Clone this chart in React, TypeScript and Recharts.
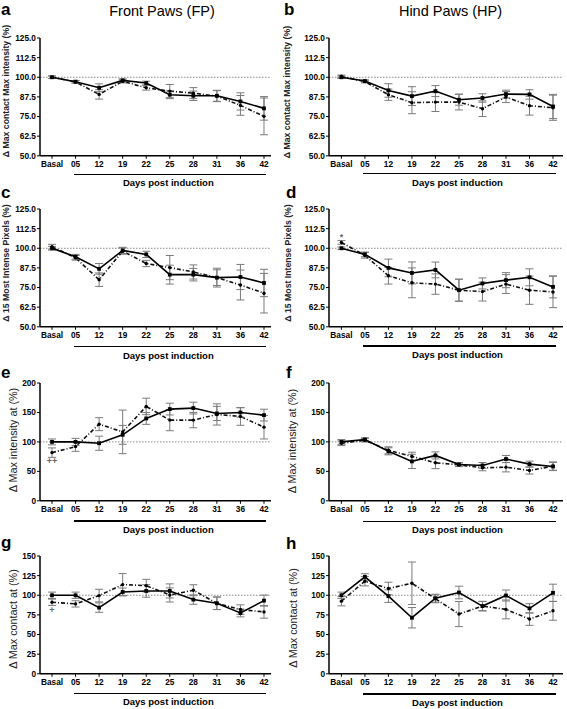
import React from 'react';
import { LineChart, Line, XAxis, YAxis, ErrorBar, ReferenceLine, ReferenceDot } from 'recharts';

// ---------- data ----------
const days = ['Basal', '05', '12', '19', '22', '25', '28', '31', '36', '42'];

const ticksPct = [50, 62.5, 75, 87.5, 100, 112.5, 125];
const ticksIntensity = [0, 50, 100, 150, 200];
const ticksContact = [0, 25, 50, 75, 100, 125, 150];

// a: FP, delta max contact max intensity
const aSolid = [100, 97.2, 93.3, 98.0, 96.3, 88.9, 88.2, 88.2, 84.6, 80.2];
const aDashed = [100, 97.0, 89.1, 97.4, 93.3, 91.2, 89.9, 88.0, 82.1, 75.1];
const aSolidErr = [0.8, 0.8, 2.5, 1.0, 1.2, 2.5, 3.0, 3.5, 5.5, 7.5];
const aDashedErr = [0.8, 0.8, 3.0, 1.0, 1.5, 4.2, 3.5, 3.5, 6.3, 11.7];

// b: HP, delta max contact max intensity
const bSolid = [100, 97.6, 91.6, 88.0, 91.2, 85.7, 86.8, 89.3, 89.1, 81.4];
const bDashed = [100.6, 97.2, 88.9, 83.8, 84.2, 84.2, 80.0, 87.4, 81.9, 80.6];
const bSolidErr = [0.8, 0.8, 4.3, 6.0, 3.5, 3.5, 2.7, 2.5, 3.0, 7.7];
const bDashedErr = [0.8, 0.8, 3.6, 7.0, 6.0, 5.0, 5.0, 3.5, 6.0, 8.0];

// c: FP, delta 15 most intense pixels
const cSolid = [100, 94.6, 86.9, 98.6, 96.1, 83.2, 83.2, 81.3, 81.7, 77.9];
const cDashed = [101, 93.9, 80.0, 98.2, 90.3, 87.7, 84.9, 81.3, 76.6, 71.4];
const cSolidErr = [1.2, 1.5, 3.4, 2.0, 2.0, 6.0, 4.0, 5.0, 8.0, 8.7];
const cDashedErr = [1.5, 1.5, 4.3, 2.0, 2.0, 7.7, 4.5, 6.0, 9.5, 12.6];

// d: HP, delta 15 most intense pixels
const dSolid = [100, 96.1, 87.5, 84.3, 86.2, 73.3, 77.6, 79.7, 81.5, 75.4];
const dDashed = [103.7, 95.5, 82.5, 78.0, 77.2, 73.3, 72.4, 77.2, 73.3, 72.2];
const dSolidErr = [0.8, 1.5, 5.6, 7.0, 5.0, 7.0, 3.5, 4.8, 5.4, 7.0];
const dDashedErr = [1.2, 1.8, 5.3, 9.5, 6.5, 7.0, 6.0, 6.0, 9.0, 10.0];

// e: FP, delta max intensity at
const eSolid = [100, 100, 97.7, 112, 139.8, 155.7, 157.4, 148.3, 150, 145.5];
const eDashed = [81.8, 92, 130.1, 117, 160.2, 137, 137, 146.6, 143.2, 125];
const eSolidErr = [5, 6, 12, 16, 10, 10, 10, 12, 8, 10];
const eDashedErr = [8, 8, 11, 37, 14, 18, 13, 18, 15, 20];

// f: HP, delta max intensity at
const fSolid = [100, 104, 84, 66.9, 77.1, 61.7, 60, 70.9, 62.3, 58.3];
const fDashed = [97.7, 102.9, 85.7, 75.4, 64.6, 61.1, 56, 57.1, 51.4, 58.9];
const fSolidErr = [4, 3, 6, 12, 6, 3, 5, 6, 5, 7];
const fDashedErr = [4, 3, 6, 7, 10, 3, 5, 8, 6, 7];

// g: FP, delta max contact at
const gSolid = [100, 100, 84.3, 104.2, 105.5, 105.5, 94.5, 89.8, 77.5, 93.2];
const gDashed = [91.1, 89, 99.6, 113.6, 112.3, 100.4, 106.4, 89.8, 81.8, 78.8];
const gSolidErr = [4, 4, 6, 5, 8, 9, 6, 8, 5, 7];
const gDashedErr = [4, 4, 8, 14, 8, 9, 7, 8, 6, 8];

// h: HP, delta max contact at
const hSolid = [100, 123.4, 98.9, 71.4, 96.3, 103.5, 86.2, 99.7, 83.3, 103.1];
const hDashed = [92.5, 117.9, 108.6, 115.3, 95.5, 76.1, 86.2, 82, 69.7, 80.2];
const hSolidErr = [4, 4, 8, 13, 5, 8, 6, 7, 6, 11];
const hDashedErr = [6, 6, 8, 27, 5, 16, 6, 12, 8, 12];

// significance marks on the dashed series at Basal
const dNote = { y: 107.3, text: '*' };
const eNote = { y: 68, text: '++' };
const gNote = { y: 82, text: '+' };

// ---------- layout ----------
const FONT = '"Liberation Sans", Arial, Helvetica, sans-serif';
const PLOT_H = 117.8;
const TOP_M = 8;
const XAX_H = 24;

const SquareDot = (props: any) => {
  const { cx, cy, index } = props;
  if (cx == null || cy == null) return <g key={`s${index}`} />;
  return <rect key={`s${index}`} x={cx - 1.9} y={cy - 1.9} width={3.8} height={3.8} fill="#000" />;
};
const SmallDot = (props: any) => {
  const { cx, cy, index } = props;
  if (cx == null || cy == null) return <g key={`d${index}`} />;
  return <circle key={`d${index}`} cx={cx} cy={cy} r={1.7} fill="#000" />;
};

type PanelProps = {
  left: number;
  plotTop: number;
  width: number;
  padL: number;
  padR: number;
  solid: number[];
  dashed: number[];
  solidErr: number[];
  dashedErr: number[];
  domain: [number, number];
  ticks: number[];
  decimals: number;
  note?: { y: number; text: string };
};

function Panel(p: PanelProps) {
  const data = days.map((d, i) => ({
    day: d,
    s: p.solid[i],
    t: p.dashed[i],
    se: p.solidErr[i],
    te: p.dashedErr[i],
  }));
  return (
    <div style={{ position: 'absolute', left: p.left, top: p.plotTop - TOP_M }}>
      <LineChart
        width={p.width}
        height={TOP_M + PLOT_H + XAX_H}
        data={data}
        margin={{ top: TOP_M, right: 4, bottom: 0, left: 0 }}
      >
        <XAxis
          dataKey="day"
          scale="point"
          interval={0}
          padding={{ left: p.padL, right: p.padR }}
          height={XAX_H}
          tickSize={3}
          tickMargin={2}
          tick={{ fontSize: 8.3, fontWeight: 700, fill: '#000' }}
          axisLine={{ stroke: '#000', strokeWidth: 1.5 }}
          tickLine={{ stroke: '#000', strokeWidth: 1 }}
        />
        <YAxis
          type="number"
          domain={p.domain}
          ticks={p.ticks}
          interval={0}
          allowDataOverflow
          width={40}
          tickSize={3}
          tickMargin={1}
          tickFormatter={(v: number) => v.toFixed(p.decimals)}
          tick={{ fontSize: 8.3, fontWeight: 700, fill: '#000' }}
          axisLine={{ stroke: '#000', strokeWidth: 1.5 }}
          tickLine={{ stroke: '#000', strokeWidth: 1 }}
        />
        <ReferenceLine y={100} stroke="#8a8a8a" strokeWidth={1} strokeDasharray="1.5 1.5" />
        <Line
          dataKey="t"
          stroke="#111"
          strokeWidth={1.6}
          strokeDasharray="4 2 1 2"
          dot={SmallDot}
          isAnimationActive={false}
        >
          <ErrorBar dataKey="te" direction="y" width={4} stroke="#7a7a7a" strokeWidth={1} />
        </Line>
        <Line
          dataKey="s"
          stroke="#000"
          strokeWidth={1.6}
          dot={SquareDot}
          isAnimationActive={false}
        >
          <ErrorBar dataKey="se" direction="y" width={4} stroke="#7a7a7a" strokeWidth={1} />
        </Line>
        {p.note ? (
          <ReferenceDot
            x="Basal"
            y={p.note.y}
            r={0}
            fill="none"
            stroke="none"
            ifOverflow="visible"
            label={{ value: p.note.text, position: 'center', fill: '#666', stroke: 'none', fontSize: 9, fontWeight: 700 }}
          />
        ) : null}
      </LineChart>
    </div>
  );
}

const LEFT_X = 0;
const RIGHT_X = 289.3;
const LEFT_W = 275;
const RIGHT_W = 278;
const rowTops = [37.7, 209.3, 383.3, 555.7];

function YLabel({ x, y, text, size, weight }: { x: number; y: number; text: string; size: number; weight: number }) {
  return (
    <div
      style={{
        position: 'absolute',
        left: x,
        top: y,
        transform: 'translate(-50%, -50%) rotate(-90deg)',
        whiteSpace: 'nowrap',
        fontSize: size,
        fontWeight: weight,
        lineHeight: 1,
        color: '#222',
      }}
    >
      {text}
    </div>
  );
}

function Letter({ x, top, text }: { x: number; top: number; text: string }) {
  return (
    <div style={{ position: 'absolute', left: x, top, fontSize: 17, fontWeight: 700, lineHeight: 1, color: '#000' }}>
      {text}
    </div>
  );
}

function Days({ x1, x2, y, cx }: { x1: number; x2: number; y: number; cx: number }) {
  return (
    <>
      <div style={{ position: 'absolute', left: x1, top: y - 0.75, width: x2 - x1, height: 1.5, background: '#000' }} />
      <div
        style={{
          position: 'absolute',
          left: cx,
          top: y + 3.9,
          transform: 'translateX(-50%)',
          whiteSpace: 'nowrap',
          fontSize: 9.5,
          fontWeight: 700,
          lineHeight: 1,
          color: '#000',
        }}
      >
        Days post induction
      </div>
    </>
  );
}

const underlineLeft = [174.3, 346.7, 521, 693.3];
const underlineRight = [173.7, 345.9, 521.5, 694];

export default function App() {
  return (
    <div
      style={{
        position: 'absolute',
        left: 0,
        top: 0,
        width: 567,
        height: 709,
        background: '#fff',
        fontFamily: FONT,
        overflow: 'hidden',
      }}
    >
      <div
        style={{ position: 'absolute', left: 162, top: 4.1, transform: 'translateX(-50%)', fontSize: 14.5, lineHeight: 1, whiteSpace: 'nowrap' }}
      >
        Front Paws (FP)
      </div>
      <div
        style={{ position: 'absolute', left: 450.5, top: 4.1, transform: 'translateX(-50%)', fontSize: 14.5, lineHeight: 1, whiteSpace: 'nowrap' }}
      >
        Hind Paws (HP)
      </div>

      <Letter x={1} top={0.6} text="a" />
      <Letter x={284} top={0.6} text="b" />
      <Letter x={1} top={184} text="c" />
      <Letter x={286} top={184} text="d" />
      <Letter x={1} top={364} text="e" />
      <Letter x={286} top={364} text="f" />
      <Letter x={1} top={534} text="g" />
      <Letter x={286} top={534.6} text="h" />

      <YLabel x={5.5} y={91} text="Δ Max contact Max intensity (%)" size={8.7} weight={700} />
      <YLabel x={286.5} y={92} text="Δ Max contact Max intensity (%)" size={8.7} weight={700} />
      <YLabel x={5.5} y={263} text="Δ 15 Most Intense Pixels (%)" size={8.7} weight={700} />
      <YLabel x={288} y={262.5} text="Δ 15 Most Intense Pixels (%)" size={8.7} weight={700} />
      <YLabel x={13} y={440} text="Δ Max intensity at (%)" size={10.8} weight={400} />
      <YLabel x={291.5} y={441} text="Δ Max intensity at (%)" size={10.8} weight={400} />
      <YLabel x={12.5} y={619} text="Δ Max contact at (%)" size={10.8} weight={400} />
      <YLabel x={292.5} y={618} text="Δ Max contact at (%)" size={10.8} weight={400} />

      <Panel left={LEFT_X} plotTop={rowTops[0]} width={LEFT_W} padL={12} padR={7} solid={aSolid} dashed={aDashed} solidErr={aSolidErr} dashedErr={aDashedErr} domain={[50, 125]} ticks={ticksPct} decimals={1} />
      <Panel left={RIGHT_X} plotTop={rowTops[0]} width={RIGHT_W} padL={12.4} padR={10} solid={bSolid} dashed={bDashed} solidErr={bSolidErr} dashedErr={bDashedErr} domain={[50, 125]} ticks={ticksPct} decimals={1} />
      <Panel left={LEFT_X} plotTop={rowTops[1]} width={LEFT_W} padL={12} padR={7} solid={cSolid} dashed={cDashed} solidErr={cSolidErr} dashedErr={cDashedErr} domain={[50, 125]} ticks={ticksPct} decimals={1} />
      <Panel left={RIGHT_X} plotTop={rowTops[1]} width={RIGHT_W} padL={12.4} padR={10} solid={dSolid} dashed={dDashed} solidErr={dSolidErr} dashedErr={dDashedErr} domain={[50, 125]} ticks={ticksPct} decimals={1} note={dNote} />
      <Panel left={LEFT_X} plotTop={rowTops[2]} width={LEFT_W} padL={12} padR={7} solid={eSolid} dashed={eDashed} solidErr={eSolidErr} dashedErr={eDashedErr} domain={[0, 200]} ticks={ticksIntensity} decimals={0} note={eNote} />
      <Panel left={RIGHT_X} plotTop={rowTops[2]} width={RIGHT_W} padL={12.4} padR={10} solid={fSolid} dashed={fDashed} solidErr={fSolidErr} dashedErr={fDashedErr} domain={[0, 200]} ticks={ticksIntensity} decimals={0} />
      <Panel left={LEFT_X} plotTop={rowTops[3]} width={LEFT_W} padL={12} padR={7} solid={gSolid} dashed={gDashed} solidErr={gSolidErr} dashedErr={gDashedErr} domain={[0, 150]} ticks={ticksContact} decimals={0} note={gNote} />
      <Panel left={RIGHT_X} plotTop={rowTops[3]} width={RIGHT_W} padL={12.4} padR={10} solid={hSolid} dashed={hDashed} solidErr={hSolidErr} dashedErr={hDashedErr} domain={[0, 150]} ticks={ticksContact} decimals={0} />

      {underlineLeft.map((y, i) => (
        <Days key={`l${i}`} x1={74} x2={266} y={y} cx={168.3} />
      ))}
      {underlineRight.map((y, i) => (
        <Days key={`r${i}`} x1={363.3} x2={556} y={y} cx={457.5} />
      ))}
    </div>
  );
}
